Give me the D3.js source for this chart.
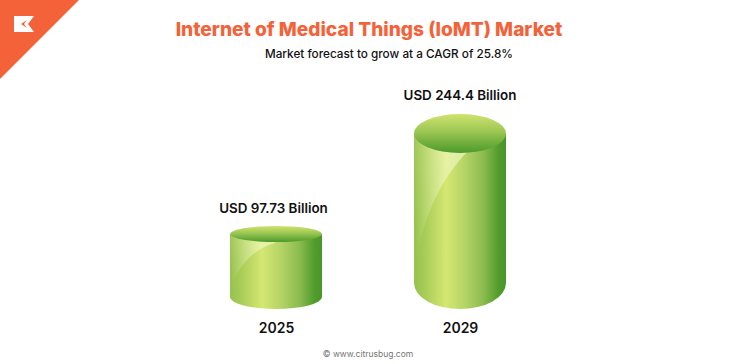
<!DOCTYPE html>
<html><head><meta charset="utf-8">
<script src="https://cdn.jsdelivr.net/npm/d3@7"></script>
<style>html,body{margin:0;padding:0;background:#fff}svg{display:block}text{font-family:Inter,"Noto Sans",sans-serif}</style>
</head><body><div id="c"></div>
<script>
const categories = ["2025","2029"];
const values = [97.73,244.4];
const valueLabels = ["USD 97.73 Billion","USD 244.4 Billion"];
const titleText = "Internet of Medical Things (IoMT) Market";
const subtitleText = "Market forecast to grow at a CAGR of 25.8%";
const sourceText = "© www.citrusbug.com";

const W=736,H=364,rx=46,baseY=309;
const svg=d3.select("#c").append("svg").attr("width",W).attr("height",H);
const x=d3.scalePoint().domain(categories).range([276,460]);
const y=d3.scaleLinear().domain([97.73,244.4]).range([234,133.5]);
const topRy=d3.scaleLinear().domain([97.73,244.4]).range([8,19.5]);
const botRy=d3.scaleLinear().domain([97.73,244.4]).range([12,26]);

const defs=svg.append("defs");
const side=defs.append("linearGradient").attr("id","side");
[[0,"#97c14e"],[.12,"#a8cd58"],[.35,"#d4e772"],[.55,"#b5d466"],[.75,"#8dbc50"],[.92,"#519c2c"],[1,"#4b962a"]]
 .forEach(([o,c])=>side.append("stop").attr("offset",o).attr("stop-color",c));
const cap=defs.append("linearGradient").attr("id","cap").attr("x2",0).attr("y2",1);
[[0,"#d0e36e"],[.45,"#9cc653"],[1,"#4b9a2b"]].forEach(([o,c])=>cap.append("stop").attr("offset",o).attr("stop-color",c));
const hi=defs.append("linearGradient").attr("id","hi").attr("x1",0).attr("x2",1).attr("y1",.6).attr("y2",.4);
[[0,.0],[.3,.22],[.7,.5],[1,.55]].forEach(([o,a])=>hi.append("stop").attr("offset",o).attr("stop-color","#fbfdd8").attr("stop-opacity",a));

// corner flag and logo
svg.append("path").attr("d","M0,0H79L0,79Z").attr("fill","#f4623a");
svg.append("path").attr("d","M14,16H34L28,24L34,32H14Z").attr("fill","#fff");
svg.append("path").attr("d","M27,20L21,24L27,28L24,24Z").attr("fill","#f4623a");

svg.append("text").attr("x",369).attr("y",36).attr("text-anchor","middle")
  .attr("font-size",19.1).attr("font-weight",800).attr("fill","#f4623a").text(titleText);
svg.append("text").attr("x",389).attr("y",58).attr("text-anchor","middle")
  .attr("font-size",11.75).attr("font-weight",500).attr("fill","#111").text(subtitleText);

const g=svg.selectAll("g.cyl").data(values).join("g").attr("class","cyl");
g.each(function(v,i){
  const s=d3.select(this),cx=x(categories[i]),ty=y(v),tr=topRy(v),br=botRy(v),by=baseY-br;
  const l=cx-rx,r=cx+rx;
  const body=`M${l},${ty}L${l},${by}A${rx},${br} 0 0 0 ${r},${by}L${r},${ty}Z`;
  s.append("path").attr("d",body).attr("fill","url(#side)");
  s.append("clipPath").attr("id","cp"+i).append("path").attr("d",body);
  // highlight: sweeps from the lower left up to the right of the top rim
  const hx=cx+(i?7:-1), hy=ty+tr+(i?-1:1), span=by-hy;
  s.append("path").attr("clip-path",`url(#cp${i})`)
   .attr("d",`M${l},${ty}L${l},${by}C${l+(i?3:4)},${by-span*(i?.37:.5)} ${l+(i?21:20)},${by-span*(i?.75:.87)} ${hx},${hy}L${hx},${ty}Z`)
   .attr("fill","url(#hi)");
  s.append("ellipse").attr("cx",cx).attr("cy",ty).attr("rx",rx).attr("ry",tr).attr("fill","url(#cap)");
  s.append("text").attr("x",cx-(i?0:2.5)).attr("y",ty-tr-(i?14:13)).attr("text-anchor","middle")
   .attr("font-size",13.4).attr("font-weight",600).attr("fill","#111").text(valueLabels[i]);
  s.append("text").attr("x",cx+.5).attr("y",333).attr("text-anchor","middle")
   .attr("font-size",14).attr("font-weight",600).attr("fill","#111").text(categories[i]);
});
svg.append("text").attr("x",368).attr("y",357).attr("text-anchor","middle")
  .attr("font-size",8.5).attr("fill","#777").text(sourceText);
</script></body></html>
